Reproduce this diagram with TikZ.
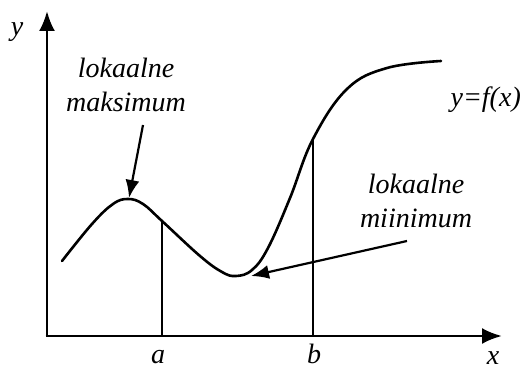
\documentclass[tikz,border=0pt]{standalone}
\usepackage{fontspec}
\setmainfont{Liberation Serif}
\usetikzlibrary{arrows.meta}
\begin{document}
\begin{tikzpicture}[x=1pt,y=-1pt,
  lbl/.style={font=\fontsize{28}{34}\selectfont\itshape, inner sep=0pt, align=center},
  axis/.style={line width=2.8pt, -{Latex[length=20pt,width=16pt]}},
  pointer/.style={line width=2.2pt, -{Latex[length=18pt,width=14pt]}},
  curve/.style={line width=2.6pt, line cap=round},
  drop/.style={line width=1.6pt}]
\useasboundingbox (0,0) rectangle (521,371);
\coordinate (O) at (47,336);
\coordinate (ytip) at (47,11);
\coordinate (xtip) at (502,336);
\draw[axis] (O) -- (ytip);
\draw[axis] ([xshift=-1.4pt]O) -- (xtip);
\draw[curve] plot[smooth, tension=0.65] coordinates {(62,261) (92,224) (113,204) (128,199) (143,204) (162,221) (200,256) (222,272) (236,276) (252,270) (268,248) (290,198) (313,139) (347,89) (387,68) (441,61)};
\coordinate (pa) at (162,221);
\coordinate (pb) at (313,139);
\coordinate (fa) at (162,336);
\coordinate (fb) at (313,336);
\draw[drop] (pa) -- (fa);
\draw[drop] (pb) -- (fb);
\node[lbl] (ylab) at (17,32) {y};
\node[lbl] (xlab) at (493,358) {x};
\node[lbl] (alab) at (158,357) {a};
\node[lbl] (blab) at (314,354) {b};
\node[lbl] (maxlab) at (126,85) {lokaalne\\maksimum};
\node[lbl] (minlab) at (416,201) {lokaalne\\miinimum};
\node[lbl, anchor=east] (flab) at (521,100) {y=f(x)};
\coordinate (maxs) at (143,125);
\coordinate (maxt) at (129,198);
\coordinate (mins) at (407,241);
\coordinate (mint) at (251,276);
\draw[pointer] (maxs) -- (maxt);
\draw[pointer] (mins) -- (mint);
\end{tikzpicture}
\end{document}
